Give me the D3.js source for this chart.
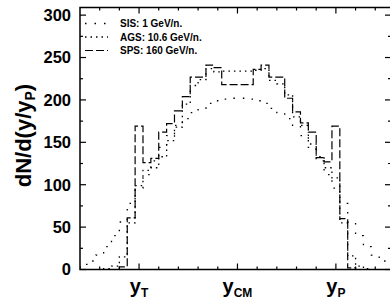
<!DOCTYPE html>
<html>
<head>
<meta charset="utf-8">
<script src="https://cdn.jsdelivr.net/npm/d3@7"></script>
<style>
  body { margin: 0; background: #fff; }
  text { font-family: "Liberation Sans", Arial, Helvetica, sans-serif; font-weight: bold; fill: #000; }
</style>
</head>
<body>
<svg id="chart"></svg>
<script>
// Histogram bins are 0.04 wide in y/yP; each series gives the centre of its first bin
const binWidth = 0.04;

// SIS 1 GeV/n (broad, sparse dots), first bin centred at -0.32
const sisFirst = -0.32;
const sisValues = [2, 6, 10, 17, 27, 40, 56, 78, 96, 112, 128, 144, 158, 170, 178, 185, 190, 196, 199, 201, 202,
                   202, 201, 199, 196, 190, 185, 178, 170, 158, 144, 128, 112, 96, 78, 56, 40, 27, 17, 10, 6, 2];

// AGS 10.6 GeV/n (dense dots), first bin centred at -0.16
const agsFirst = -0.16;
const agsValues = [1, 4, 15, 55, 99, 117, 120, 133, 152, 168, 195, 217, 224, 237, 233, 234, 234,
                   234, 234, 235, 237, 223, 219, 206, 180, 170, 148, 133, 120, 108, 55, 16, 4, 1];

// SPS 160 GeV/n (dashes), first bin centred at -0.08
const spsFirst = -0.08;
const spsValues = [3, 61, 169, 126, 131, 162, 172, 187, 204, 227, 227, 241, 238, 218, 218,
                   218, 218, 236, 241, 227, 227, 202, 186, 173, 162, 132, 127, 169, 60, 2];

const legendLabels = ['SIS: 1 GeV/n.', 'AGS: 10.6 GeV/n.', 'SPS: 160 GeV/n.'];

const yMajorTicks = [0, 50, 100, 150, 200, 250, 300];
const yMinorTicks = [25, 75, 125, 175, 225, 275];
const xTicks = [-0.2, -0.1, 0, 0.1, 0.2, 0.3, 0.4, 0.5, 0.6, 0.7, 0.8, 0.9, 1.0, 1.1, 1.2];
const xMajorTicks = [0, 0.5, 1.0];
const xLabels = [{x: 0, main: 'y', sub: 'T'}, {x: 0.5, main: 'y', sub: 'CM'}, {x: 1.0, main: 'y', sub: 'P'}];

const W = 390, H = 302;
const margin = {top: 7.5, right: -1, bottom: 32.5, left: 80};
const innerW = W - margin.left - margin.right;
const innerH = H - margin.top - margin.bottom;

const svg = d3.select('#chart').attr('width', W).attr('height', H);

const x = d3.scaleLinear().domain([-0.3, 1.28]).range([0, innerW]);
const y = d3.scaleLinear().domain([0, 309]).range([innerH, 0]);

const g = svg.append('g').attr('transform', `translate(${margin.left},${margin.top})`);

g.append('clipPath').attr('id', 'plotClip')
  .append('rect').attr('width', innerW).attr('height', innerH);

// turn bin values into a step outline
function stepPoints(first, values) {
  const pts = [[first - binWidth / 2, 0]];
  values.forEach((v, i) => {
    const c = first + i * binWidth;
    pts.push([c - binWidth / 2, v]);
    pts.push([c + binWidth / 2, v]);
  });
  pts.push([first + (values.length - 1) * binWidth + binWidth / 2, 0]);
  return pts;
}

const line = d3.line().x(d => x(d[0])).y(d => y(d[1]));

const series = [
  {first: sisFirst, values: sisValues, dash: '1.5,8', width: 1.3},
  {first: agsFirst, values: agsValues, dash: '1.5,4', width: 1.3},
  {first: spsFirst, values: spsValues, dash: '8,3', width: 1.2}
];

const plot = g.append('g').attr('clip-path', 'url(#plotClip)');
plot.selectAll('path.hist')
  .data(series)
  .join('path')
    .attr('class', 'hist')
    .attr('d', d => line(stepPoints(d.first, d.values)))
    .attr('fill', 'none')
    .attr('stroke', '#000')
    .attr('stroke-width', d => d.width)
    .attr('stroke-dasharray', d => d.dash);

// frame
g.append('rect')
  .attr('width', innerW).attr('height', innerH)
  .attr('fill', 'none').attr('stroke', '#000').attr('stroke-width', 1.5);

// y ticks, inward on both sides
const yTickData = yMajorTicks.map(v => ({v, len: 6})).concat(yMinorTicks.map(v => ({v, len: 3})));
g.selectAll('line.ytl').data(yTickData).join('line')
  .attr('x1', 0).attr('x2', d => d.len)
  .attr('y1', d => y(d.v)).attr('y2', d => y(d.v))
  .attr('stroke', '#000').attr('stroke-width', 1.2);
g.selectAll('line.ytr').data(yTickData).join('line')
  .attr('x1', innerW).attr('x2', d => innerW - d.len)
  .attr('y1', d => y(d.v)).attr('y2', d => y(d.v))
  .attr('stroke', '#000').attr('stroke-width', 1.2);

g.selectAll('text.ylab').data(yMajorTicks).join('text')
  .attr('x', -9).attr('y', d => y(d))
  .attr('dy', '0.36em')
  .attr('text-anchor', 'end')
  .style('font-size', '16.5px')
  .text(d => d);

// x ticks, inward on bottom and top
const xTickData = xTicks.map(v => ({v, len: xMajorTicks.includes(v) ? 6 : 3}));
g.selectAll('line.xtb').data(xTickData).join('line')
  .attr('x1', d => x(d.v)).attr('x2', d => x(d.v))
  .attr('y1', innerH).attr('y2', d => innerH - d.len)
  .attr('stroke', '#000').attr('stroke-width', 1.2);
g.selectAll('line.xtt').data(xTickData).join('line')
  .attr('x1', d => x(d.v)).attr('x2', d => x(d.v))
  .attr('y1', 0).attr('y2', d => d.len)
  .attr('stroke', '#000').attr('stroke-width', 1.2);

// x labels with subscripts
const xl = g.selectAll('text.xlab').data(xLabels).join('text')
  .attr('x', d => x(d.x)).attr('y', innerH + 23)
  .attr('text-anchor', 'middle')
  .style('font-size', '20px');
xl.append('tspan').text(d => d.main);
xl.append('tspan').attr('dy', 4).style('font-size', '12px').text(d => d.sub);

// y axis title
const yt = svg.append('text')
  .attr('transform', `translate(30.5,${margin.top + y(158)}) rotate(-90)`)
  .attr('text-anchor', 'middle')
  .style('font-size', '22px');
yt.append('tspan').text('dN/d(y/y');
yt.append('tspan').attr('dy', 4).style('font-size', '14px').text('P');
yt.append('tspan').attr('dy', -4).text(')');

// legend
const legend = g.append('g').attr('transform', 'translate(5,16)');
legendLabels.forEach((lab, i) => {
  const row = legend.append('g').attr('transform', `translate(0,${i * 13.5})`);
  row.append('line')
    .attr('x1', 0).attr('x2', 23).attr('y1', 0).attr('y2', 0)
    .attr('stroke', '#000').attr('stroke-width', series[i].width)
    .attr('stroke-dasharray', series[i].dash);
  row.append('text')
    .attr('x', 35).attr('y', 0).attr('dy', '0.36em')
    .style('font-size', '10px')
    .text(lab);
});
</script>
</body>
</html>
